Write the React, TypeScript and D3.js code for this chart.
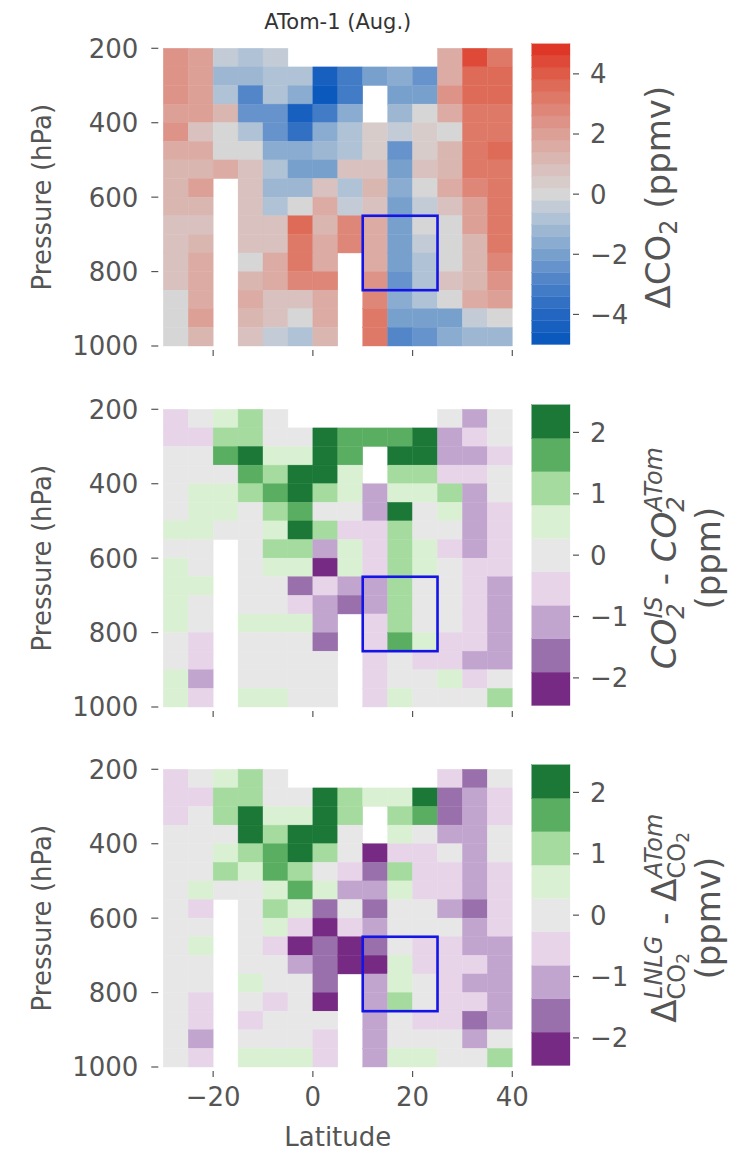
import React from "react";
import * as d3 from "d3";

// grid edges of the binned curtain (latitude, pressure)
const latEdges = [-30, -25, -20, -15, -10, -5, 0, 5, 10, 15, 20, 25, 30, 35, 40];
const presEdges = [200, 250, 300, 350, 400, 450, 500, 550, 600, 650, 700, 750, 800, 850, 900, 950, 1000];
const latTicks = [-20, 0, 20, 40];
const presTicks = [200, 400, 600, 800, 1000];
const dco2Ticks = [-4, -2, 0, 2, 4];
const diffTicks = [-2, -1, 0, 1, 2];
const boxLat = [10, 25];
const boxPres = [650, 850];

const N = null;

// ΔCO2 (ppmv), one row per pressure bin, top (200 hPa) first
const dco2 = [
  [2.4, 1.8, -0.5, -0.8, -0.4, N, N, N, N, N, N, 1.6, 4.2, 3.3],
  [2.5, 2.0, -1.2, -1.2, -0.8, -0.8, -4.6, -3.3, -2.0, -1.6, -2.4, 1.7, 3.4, 3.5],
  [2.3, 1.8, -0.8, -2.8, -1.0, -1.5, -4.7, -3.3, N, -2.2, -2.2, 2.2, 3.4, 3.6],
  [1.9, 1.8, 1.2, -2.5, -2.4, -4.5, -3.4, -1.8, N, -1.3, -0.1, 1.6, 3.2, 3.3],
  [2.2, 0.8, 0.0, -0.8, -2.5, -3.8, -1.6, -1.0, 0.5, -0.6, 0.5, 0.0, 3.0, 3.2],
  [1.6, 1.5, 0.0, 0.0, -1.7, -1.7, -1.4, -1.0, 0.5, -2.4, 0.5, 1.0, 3.0, 3.7],
  [1.3, 1.3, 1.5, 0.8, -1.0, -2.2, -2.2, 0.6, 0.6, -2.0, 0.6, 1.2, 3.0, 3.3],
  [1.3, 1.8, N, 0.8, -1.3, -1.3, 0.8, -0.8, 1.0, -1.6, 0.0, 1.4, 2.8, 3.3],
  [1.2, 1.3, N, 0.8, -1.0, 0.0, 1.5, -0.6, 0.6, -1.9, -0.6, 0.8, 2.1, 3.2],
  [0.7, 0.7, N, 0.8, 0.8, 3.5, 1.2, 2.8, 1.5, -2.0, -0.1, 0.0, 2.0, 3.2],
  [0.6, 1.2, N, 0.8, 0.8, 3.3, 1.5, 2.8, 1.5, -2.2, -0.6, 0.0, 1.3, 3.0],
  [0.6, 1.5, N, -0.2, 1.6, 3.2, 1.6, N, 1.5, -2.2, -0.8, 0.0, 1.2, 2.8],
  [0.6, 1.5, N, 1.2, 1.5, 2.8, 2.6, N, 2.5, -2.6, -1.0, 0.6, 1.2, 2.4],
  [0.0, 1.5, N, 1.5, 0.8, 0.8, 1.5, N, 2.8, -1.6, -1.0, 0.0, 1.5, 1.8],
  [0.0, 2.0, N, 1.2, 0.6, 0.1, 1.5, N, 3.0, -2.0, -2.0, -2.0, -0.3, 0.0],
  [0.0, 1.3, N, 0.8, -0.3, -0.8, 1.3, N, 3.2, -3.0, -2.6, -1.8, -1.2, -1.2],
];

// CO2(IS) - CO2(ATom), read as colour class (-4..4) of the 9-step bar
const isDiff = [
  [-1, 0, 1, 2, 0, N, N, N, N, N, N, 0, -2, 0],
  [-1, -1, 2, 2, 0, 0, 4, 3, 3, 3, 4, -2, -1, 0],
  [0, 0, 3, 4, 1, 1, 4, 3, N, 4, 4, -2, -2, -1],
  [0, 0, 0, 3, 2, 4, 4, 1, N, 2, 2, -1, -1, 0],
  [0, 1, 1, 2, 3, 4, 2, 1, -2, 1, 1, 2, -2, 0],
  [0, 1, 1, 0, 2, 3, 0, 0, -2, 4, 0, 1, -2, -1],
  [1, 1, 0, 0, 1, 4, 2, -1, -1, 2, 0, 0, -2, -1],
  [0, 0, N, 0, 2, 2, -2, 1, -1, 2, 1, -1, -2, -1],
  [1, 0, N, 0, 1, 1, -4, 1, -1, 2, 1, 0, -1, -1],
  [1, 1, N, 0, 0, -3, -1, -2, -2, 2, 0, 0, -1, -2],
  [1, 0, N, 0, 0, -1, -2, -3, -2, 2, 0, 0, -1, -2],
  [1, 0, N, 1, 1, 1, -2, N, -1, 2, 0, 0, -1, -2],
  [0, -1, N, 0, 0, 0, -3, N, -1, 3, 1, -1, -1, -2],
  [0, -1, N, 0, 0, 0, 0, N, -1, 0, -1, -1, -2, -2],
  [1, -2, N, 0, 0, 0, 0, N, -1, 0, 0, 1, -1, 0],
  [1, -1, N, 1, 1, 0, 0, N, -1, 1, 0, 0, 0, 2],
];

// Δ(LNLG) - Δ(ATom), colour class (-4..4)
const lnlgDiff = [
  [-1, 0, 1, 2, 0, N, N, N, N, N, N, -1, -3, 0],
  [-1, -1, 2, 2, 0, 0, 4, 2, 1, 1, 4, -3, -2, -1],
  [-1, 0, 2, 4, 1, 1, 4, 2, N, 2, 3, -3, -2, -1],
  [0, 0, 0, 4, 2, 4, 4, 0, N, 1, 0, -2, -2, 0],
  [0, 0, 1, 2, 3, 4, 2, 0, -4, -1, -1, 0, -2, 0],
  [0, 0, 2, 1, 3, 2, 0, -1, -3, 2, -1, -1, -2, -1],
  [0, 1, 0, 0, 1, 3, 1, -2, -2, 1, -1, -1, -2, -1],
  [0, -1, N, 0, 2, 1, -3, 0, -3, 0, 0, -2, -3, -1],
  [0, 0, N, 0, 1, -1, -4, -1, -2, 0, 0, 0, -2, -1],
  [0, 1, N, 0, -1, -4, -3, -4, -3, 0, -1, -1, -2, -2],
  [0, 0, N, 0, 0, -2, -3, -4, -4, 1, -1, -1, -1, -2],
  [0, 0, N, 1, 0, 0, -3, N, -2, 1, 0, -1, -2, -2],
  [0, -1, N, 0, -1, 0, -4, N, -2, 2, 0, -1, -1, -2],
  [0, -1, N, -1, 0, 0, 0, N, -2, 0, -1, -1, -3, -2],
  [0, -2, N, 0, 0, 0, -1, N, -2, 0, 0, 0, -2, 0],
  [0, -1, N, 1, 1, 1, -1, N, -2, 1, 1, 0, 0, 2],
];

const diffMax = 2.45;
const classWidth = (2 * diffMax) / 9;
const toPpm = (rows) => rows.map((r) => r.map((c) => (c === null ? null : c * classWidth)));

const rdbuStops = ["#0656bd", "#2266c2", "#4a80c7", "#78a0cd", "#a6bdd5", "#d6d6d6", "#d9bcb8", "#dca096", "#de8070", "#de5b48", "#de2e1f"];
const rdbuInterp = d3.piecewise(d3.interpolateRgb, rdbuStops);
const dco2Color = d3
  .scaleQuantize<string>()
  .domain([-5, 5])
  .range(d3.range(25).map((i) => rdbuInterp((i + 0.5) / 25)));

const prgn = ["#762a83", "#9970ab", "#c2a5cf", "#e7d4e8", "#e8e7e8", "#d9f0d3", "#a6dba0", "#5aae61", "#1b7837"];
const diffColor = d3.scaleQuantize<string>().domain([-diffMax, diffMax]).range(prgn);

const W = 744;
const H = 1152;
const plotL = 163.3;
const plotR = 512.3;
const plotH = 297.7;
const tops = [48.3, 409.3, 769.3];
const cbX = 531.7;
const cbW = 38.3;
const txt = "#555";
const font = "DejaVu Sans, sans-serif";

const x = d3.scaleLinear().domain([-30, 40]).range([plotL, plotR]);

function Panel({ top, values, color, ticks, label, showX }) {
  const y = d3.scaleLinear().domain([200, 1000]).range([top, top + plotH]);
  const cbTop = top - 4.5;
  const cbBot = top + plotH - 1.5;
  const [d0, d1] = color.domain();
  const cy = d3.scaleLinear().domain([d0, d1]).range([cbBot, cbTop]);
  const edges = [d0, ...color.thresholds(), d1];
  const mid = top + plotH / 2;

  return (
    <g>
      {values.map((row, i) =>
        row.map((v, j) =>
          v === null ? null : (
            <rect
              key={`${i}-${j}`}
              x={x(latEdges[j])}
              y={y(presEdges[i])}
              width={x(latEdges[j + 1]) - x(latEdges[j])}
              height={y(presEdges[i + 1]) - y(presEdges[i])}
              fill={color(v)}
              stroke={color(v)}
              strokeWidth={0.4}
            />
          )
        )
      )}
      <rect
        x={x(boxLat[0])}
        y={y(boxPres[0])}
        width={x(boxLat[1]) - x(boxLat[0])}
        height={y(boxPres[1]) - y(boxPres[0])}
        fill="none"
        stroke="#1414e6"
        strokeWidth={2.6}
      />
      {presTicks.map((p) => (
        <g key={p}>
          <line x1={plotL - 12} x2={plotL - 5} y1={y(p)} y2={y(p)} stroke={txt} strokeWidth={1.2} />
          <text x={plotL - 25} y={y(p)} dy="0.36em" textAnchor="end" fontSize={26} fill={txt}>
            {p}
          </text>
        </g>
      ))}
      {latTicks.map((l) => (
        <g key={l}>
          <line x1={x(l)} x2={x(l)} y1={top + plotH + 4} y2={top + plotH + 10} stroke={txt} strokeWidth={1.2} />
          {showX ? (
            <text x={x(l)} y={1106} textAnchor="middle" fontSize={26} fill={txt}>
              {l < 0 ? `\u2212${-l}` : l}
            </text>
          ) : null}
        </g>
      ))}
      <text transform={`translate(51,${mid}) rotate(-90)`} textAnchor="middle" fontSize={26} fill={txt}>
        Pressure (hPa)
      </text>
      {edges.slice(0, -1).map((e, k) => (
        <rect
          key={k}
          x={cbX}
          y={cy(edges[k + 1])}
          width={cbW}
          height={cy(e) - cy(edges[k + 1])}
          fill={color.range()[k]}
          stroke={color.range()[k]}
          strokeWidth={0.3}
        />
      ))}
      {ticks.map((t) => (
        <g key={t}>
          <line x1={cbX + cbW + 3} x2={cbX + cbW + 9} y1={cy(t)} y2={cy(t)} stroke={txt} strokeWidth={1.2} />
          <text x={cbX + cbW + 20} y={cy(t)} dy="0.36em" fontSize={26} fill={txt}>
            {t < 0 ? `\u2212${-t}` : t}
          </text>
        </g>
      ))}
      {label(mid)}
    </g>
  );
}

const dco2Label = (mid) => (
  <text transform={`translate(670,${mid}) rotate(-90)`} textAnchor="middle" fontSize={34} fill={txt}>
    ΔCO<tspan fontSize={24} dy={7}>2</tspan>
    <tspan dy={-7}>{"\u00a0(ppmv)"}</tspan>
  </text>
);

const isLabel = (mid) => (
  <g>
    <text transform={`translate(676,${mid}) rotate(-90)`} textAnchor="middle" fontSize={34} fill={txt}>
      <tspan fontStyle="italic">CO</tspan>
      <tspan fontSize={24} fontStyle="italic" dy={8}>2</tspan>
      <tspan fontSize={24} fontStyle="italic" dx={-15} dy={-22}>IS</tspan>
      <tspan dy={14}>{"\u00a0-\u00a0"}</tspan>
      <tspan fontStyle="italic">CO</tspan>
      <tspan fontSize={24} fontStyle="italic" dy={8}>2</tspan>
      <tspan fontSize={24} fontStyle="italic" dx={-15} dy={-22}>ATom</tspan>
    </text>
    <text transform={`translate(720,${mid}) rotate(-90)`} textAnchor="middle" fontSize={34} fill={txt}>
      (ppm)
    </text>
  </g>
);

const lnlgLabel = (mid) => (
  <g>
    <text transform={`translate(676,${mid}) rotate(-90)`} textAnchor="middle" fontSize={34} fill={txt}>
      Δ
      <tspan fontSize={24} dy={9}>CO</tspan>
      <tspan fontSize={17} dy={4}>2</tspan>
      <tspan fontSize={24} fontStyle="italic" dx={-46} dy={-27}>LNLG</tspan>
      <tspan dy={14}>{"\u00a0-\u00a0Δ"}</tspan>
      <tspan fontSize={24} dy={9}>CO</tspan>
      <tspan fontSize={17} dy={4}>2</tspan>
      <tspan fontSize={24} fontStyle="italic" dx={-46} dy={-27}>ATom</tspan>
    </text>
    <text transform={`translate(720,${mid}) rotate(-90)`} textAnchor="middle" fontSize={34} fill={txt}>
      (ppmv)
    </text>
  </g>
);

export default function App() {
  return (
    <svg
      width={W}
      height={H}
      viewBox={`0 0 ${W} ${H}`}
      style={{ position: "absolute", left: 0, top: 0, background: "#fff" }}
      fontFamily={font}
    >
      <rect width={W} height={H} fill="#fff" />
      <text x={(plotL + plotR) / 2} y={29} textAnchor="middle" fontSize={21} fill="#333">
        ATom-1 (Aug.)
      </text>
      <Panel top={tops[0]} values={dco2} color={dco2Color} ticks={dco2Ticks} label={dco2Label} showX={false} />
      <Panel top={tops[1]} values={toPpm(isDiff)} color={diffColor} ticks={diffTicks} label={isLabel} showX={false} />
      <Panel top={tops[2]} values={toPpm(lnlgDiff)} color={diffColor} ticks={diffTicks} label={lnlgLabel} showX={true} />
      <text x={(plotL + plotR) / 2} y={1146} textAnchor="middle" fontSize={26} fill={txt}>
        Latitude
      </text>
    </svg>
  );
}
